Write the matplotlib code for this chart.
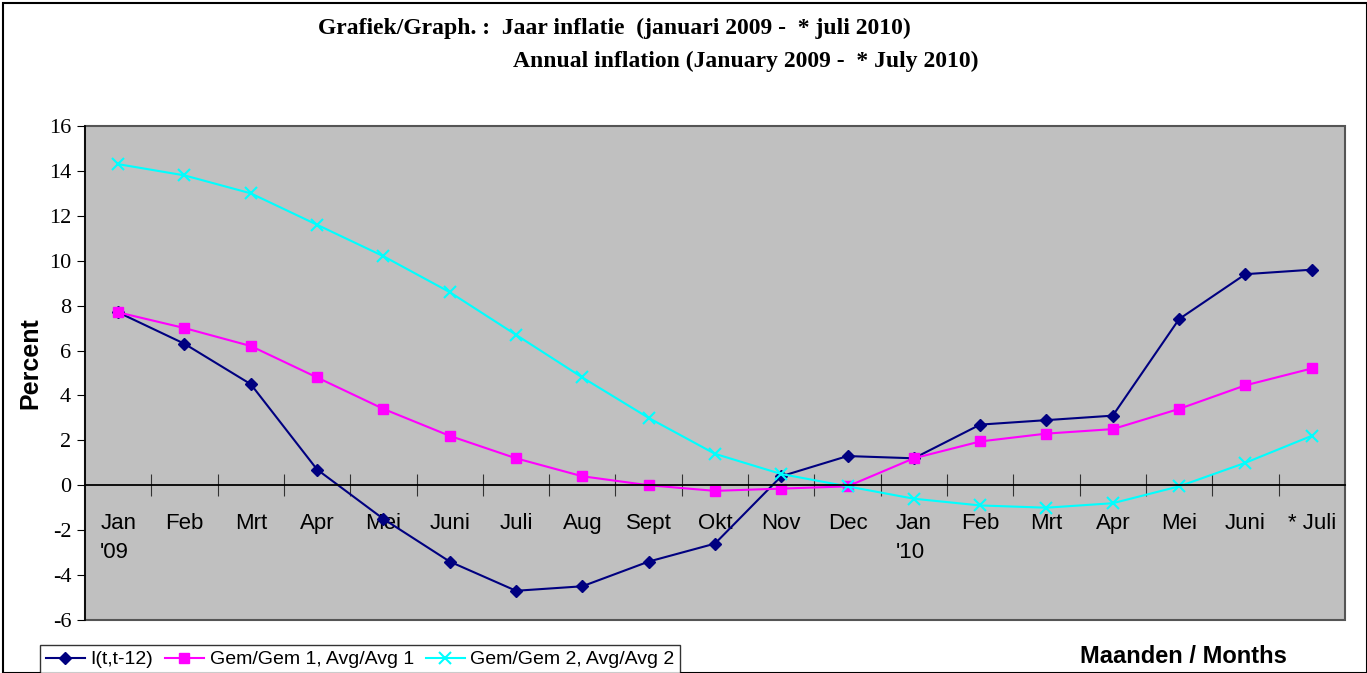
import numpy as np
import matplotlib.pyplot as plt
from matplotlib.patches import Rectangle

# maanden / months
maanden = ["Jan\n'09", "Feb", "Mrt", "Apr", "Mei", "Juni", "Juli", "Aug", "Sept", "Okt",
           "Nov", "Dec", "Jan\n'10", "Feb", "Mrt", "Apr", "Mei", "Juni", "* Juli"]

# I(t,t-12)
infl = [7.7, 6.3, 4.5, 0.7, -1.5, -3.4, -4.7, -4.5, -3.4, -2.6,
        0.4, 1.3, 1.2, 2.7, 2.9, 3.1, 7.4, 9.4, 9.6]
# Gem/Gem 1, Avg/Avg 1
gem1 = [7.7, 7.0, 6.2, 4.8, 3.4, 2.2, 1.2, 0.4, 0.0, -0.25,
        -0.15, -0.05, 1.2, 1.95, 2.3, 2.5, 3.4, 4.45, 5.2]
# Gem/Gem 2, Avg/Avg 2
gem2 = [14.3, 13.8, 13.0, 11.6, 10.2, 8.6, 6.7, 4.8, 3.0, 1.4,
        0.5, -0.05, -0.6, -0.9, -1.0, -0.8, -0.05, 1.0, 2.2]

yticks = np.arange(-6, 17, 2)

plt.rcParams['font.family'] = ['Liberation Sans', 'DejaVu Sans']
plt.rcParams['axes.unicode_minus'] = False

fig = plt.figure(figsize=(13.67, 6.73), dpi=100)
ax = fig.add_axes([0.0622, 0.0788, 0.9216, 0.734])
ax.set_facecolor('#c0c0c0')

x = np.arange(len(maanden))
ax.plot(x, infl, color='#000080', marker='D', markersize=6, lw=1.5, label='I(t,t-12)')
ax.plot(x, gem1, color='#ff00ff', marker='s', markersize=7, lw=1.5, label='Gem/Gem 1, Avg/Avg 1')
ax.plot(x, gem2, color='#00ffff', marker='x', markersize=9, mew=1.5, lw=1.5, label='Gem/Gem 2, Avg/Avg 2')

ax.set_xlim(-0.5, len(maanden) - 0.5)
ax.set_ylim(-6, 16)
ax.set_yticks(yticks)
ax.set_yticklabels([str(v) for v in yticks])
for t in ax.get_yticklabels():
    t.set_fontfamily(['Liberation Serif'])
    t.set_fontsize(16)
ax.tick_params(axis='y', direction='out', length=6, pad=4)

# x-as door nul, streepjes tussen de maanden
for s in ['top', 'right', 'left']:
    ax.spines[s].set_visible(False)
ax.spines['bottom'].set_position(('data', 0))
ax.spines['bottom'].set_linewidth(1.3)
ax.set_xticks(np.arange(0.5, len(maanden) - 0.5, 1))
ax.set_xticklabels([])
ax.tick_params(axis='x', which='major', direction='inout', length=16, color='#333333')
ax.set_xticks(x, minor=True)
ax.set_xticklabels(maanden, minor=True, fontsize=16, multialignment='left', linespacing=1.5)
ax.tick_params(axis='x', which='minor', length=0, pad=20)

ax.add_patch(Rectangle((0, 0), 1, 1, transform=ax.transAxes, fill=False,
                       edgecolor='#555555', lw=1.5, clip_on=False))
ax.plot([0, 0], [0, 1], transform=ax.transAxes, color='black', lw=1.2, clip_on=False)

fig.text(30 / 1367, 1 - 363 / 673, 'Percent', rotation=90, fontsize=18, fontweight='bold',
         ha='center', va='center')

fig.text(0.2326, 0.958, 'Grafiek/Graph. :  Jaar inflatie  (januari 2009 -  * juli 2010)',
         family='Liberation Serif', fontweight='bold', fontsize=17, va='center', ha='left')
fig.text(0.3753, 0.909, 'Annual inflation (January 2009 -  * July 2010)',
         family='Liberation Serif', fontweight='bold', fontsize=17, va='center', ha='left')
fig.text(0.79, 0.024, 'Maanden / Months', fontsize=17, fontweight='bold', va='center', ha='left')

leg = fig.legend(loc='upper left', bbox_to_anchor=(40 / 1367, 1 - 645 / 673), ncol=3, fontsize=14,
                 frameon=True, fancybox=False, edgecolor='black', handlelength=2.0,
                 columnspacing=0.6, handletextpad=0.3, borderpad=0.3, borderaxespad=0)
leg.get_frame().set_linewidth(1.0)

fig.patches.append(Rectangle((0.002, 0.0), 0.998, 0.995, transform=fig.transFigure,
                             fill=False, edgecolor='black', lw=1.5))

fig.savefig('out.png', dpi=100)
